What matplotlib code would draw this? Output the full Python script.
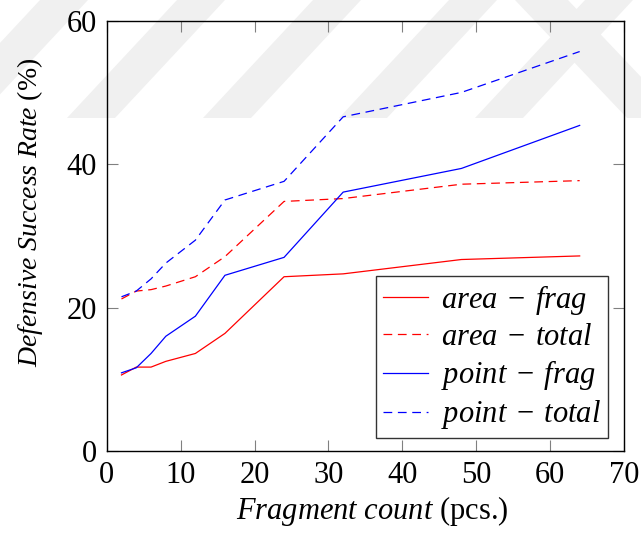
import matplotlib
matplotlib.use("Agg")
import matplotlib.pyplot as plt
from matplotlib.patches import Polygon

# ---- data ----
frag_counts = [2, 4, 6, 8, 12, 16, 24, 32, 48, 64]
area_frag   = [10.6, 11.7, 11.7, 12.5, 13.6, 16.4, 24.3, 24.7, 26.7, 27.2]
area_total  = [21.2, 22.3, 22.5, 23.0, 24.3, 27.1, 34.8, 35.2, 37.2, 37.7]
point_frag  = [10.9, 11.6, 13.6, 16.0, 18.8, 24.5, 27.0, 36.1, 39.4, 45.4]
point_total = [21.5, 22.3, 24.0, 26.2, 29.4, 35.0, 37.6, 46.6, 50.0, 55.7]
series_labels = [r"$area\;-\;frag$", r"$area\;-\;total$", r"$point\;-\;frag$", r"$point\;-\;total$"]
x_ticks = [0, 10, 20, 30, 40, 50, 60, 70]
y_ticks = [0, 20, 40, 60]

plt.rcParams["font.family"] = ["Liberation Serif", "DejaVu Serif"]
plt.rcParams["mathtext.fontset"] = "custom"
plt.rcParams["mathtext.rm"] = "Liberation Serif"
plt.rcParams["mathtext.it"] = "Liberation Serif:italic"
plt.rcParams["mathtext.bf"] = "Liberation Serif:bold"

W, H = 641, 534
fig = plt.figure(figsize=(W / 100, H / 100), dpi=100)

# faint background watermark stripes (decoration)
wm_color = "#f0f0f0"
def px(poly):
    return [(x / W, 1 - y / H) for x, y in poly]
for xb in [-70, 67, 203, 339, 475]:
    fig.patches.append(Polygon(px([(xb, 118), (xb + 48, 118), (xb + 158, 0), (xb + 110, 0)]),
                               closed=True, transform=fig.transFigure,
                               facecolor=wm_color, edgecolor="none", zorder=-5))
fig.patches.append(Polygon(px([(515, 0), (568, 0), (680, 118), (627, 118)]),
                           closed=True, transform=fig.transFigure,
                           facecolor=wm_color, edgecolor="none", zorder=-5))

ax = fig.add_axes([106.7 / W, 1 - 451 / H, (624 - 106.7) / W, (451 - 20.7) / H])
ax.patch.set_alpha(0)

lw = 0.9
dash = (0, (7.0, 4.5))
ax.plot(frag_counts, area_frag, color="#ff0000", lw=lw, label=series_labels[0])
ax.plot(frag_counts, area_total, color="#ff0000", lw=lw, linestyle=dash, label=series_labels[1])
ax.plot(frag_counts, point_frag, color="#0000ff", lw=lw, label=series_labels[2])
ax.plot(frag_counts, point_total, color="#0000ff", lw=lw, linestyle=dash, label=series_labels[3])

ax.set_xlim(0, 70)
ax.set_ylim(0, 60)
ax.set_xticks(x_ticks)
ax.set_yticks(y_ticks)
ax.tick_params(direction="in", length=8, width=0.8, color="#808080",
               top=True, right=True, labelsize=22, pad=7)
for s in ax.spines.values():
    s.set_linewidth(1.0)
    s.set_color("black")

ax.set_xlabel(r"$Fragment\ count$ (pcs.)", fontsize=22)
ax.xaxis.label.set_va("baseline")
ax.xaxis.set_label_coords(0.513, -0.158)
ax.set_ylabel(r"$Defensive\ Success\ Rate\ (\%)$", fontsize=20)
ax.yaxis.set_label_coords(-0.119, 0.555)

leg = ax.legend(loc="lower right", bbox_to_anchor=(0.969, 0.030), borderaxespad=0,
                fontsize=22, fancybox=False, framealpha=1, edgecolor="#333333",
                handlelength=1.47, handletextpad=0.45, labelspacing=0.2,
                borderpad=0.22)
leg.get_frame().set_linewidth(1.0)

fig.savefig("out.png", dpi=100)
